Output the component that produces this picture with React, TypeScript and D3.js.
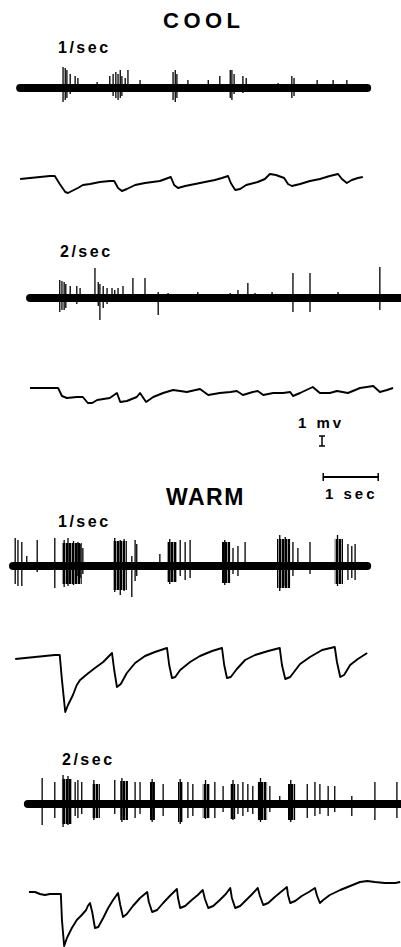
import React from 'react';
import * as d3 from 'd3';

// time in seconds, potential in mV (spike amplitudes in the same units)
type Pt = [number, number];
type Spike = [number, number, number]; // time, up, down
type Burst = [number, number, number, number]; // t0, t1, up, down

const panelTitles = ['COOL', 'WARM'];
const rateLabels = ['1/sec', '2/sec', '1/sec', '2/sec'];
const scaleLabels = ['1 mv', '1 sec'];

// COOL 1/sec
const coolSpikes1Extent = [0.13, 6.44];
const coolSpikes1: Spike[] = [
  [0.91, 2.1, 1.4], [0.95, 2.0, 1.2], [0.98, 1.8, 1.0], [1.04, 1.4, 0.6], [1.13, 1.2, 0.3],
  [1.18, 1.0, 0.4], [1.53, 0.6, 0.3], [1.76, 1.2, 0.3], [1.82, 1.4, 0.8], [1.87, 1.6, 1.0],
  [1.91, 1.4, 1.2], [1.95, 1.8, 1.0], [1.98, 1.2, 0.8], [2.04, 1.0, 0.4], [2.09, 1.8, 0.4],
  [2.31, 0.8, 0.2], [2.91, 1.6, 1.2], [2.95, 1.8, 1.4], [2.98, 1.4, 1.0], [3.18, 0.8, 0.3],
  [3.55, 0.8, 0.3], [3.76, 1.2, 0.4], [3.95, 1.8, 1.0], [3.98, 1.8, 1.2], [4.02, 1.4, 0.6],
  [4.18, 1.2, 0.5], [4.24, 1.0, 0.4], [4.82, 0.5, 0.2], [5.07, 1.2, 1.0], [5.11, 1.0, 0.8],
  [5.53, 0.8, 0.3], [5.82, 0.8, 0.3], [6.07, 0.8, 0.3],
];
const coolSlow1: Pt[] = [
  [0.13, -0.1], [0.31, 0], [0.49, 0.1], [0.67, 0.2], [0.76, 0.2], [0.85, -0.6], [0.95, -1.4],
  [1.0, -1.5], [1.07, -1.3], [1.18, -1.0], [1.27, -0.7], [1.4, -0.6], [1.58, -0.4], [1.76, -0.3],
  [1.84, -0.3], [1.91, -1.0], [1.98, -1.3], [2.07, -1.1], [2.22, -0.7], [2.4, -0.5], [2.67, -0.3],
  [2.87, 0.1], [2.93, -0.7], [3.0, -1.0], [3.13, -0.8], [3.31, -0.6], [3.49, -0.4], [3.67, -0.2],
  [3.8, 0], [3.91, 0.2], [3.96, -0.5], [4.04, -1.2], [4.13, -1.1], [4.24, -0.7], [4.31, -0.6],
  [4.45, -0.4], [4.58, -0.1], [4.67, 0.4], [4.78, 0.3], [4.93, 0], [5.0, -0.6], [5.07, -0.8],
  [5.22, -0.6], [5.4, -0.3], [5.58, -0.1], [5.76, 0.2], [5.91, 0.4], [5.98, -0.1], [6.07, -0.5],
  [6.16, -0.2], [6.27, 0], [6.36, 0.1],
];

// COOL 2/sec
const coolSpikes2Extent = [0.31, 7.05];
const coolSpikes2: Spike[] = [
  [0.85, 1.8, 1.4], [0.89, 1.7, 1.2], [0.93, 1.6, 1.2], [0.96, 1.4, 1.0], [1.04, 1.2, 0.4],
  [1.16, 1.2, 0.6], [1.22, 1.0, 0.4], [1.49, 3.0, 0.2], [1.55, 1.6, 0.8], [1.58, 1.4, 2.2],
  [1.64, 1.2, 1.0], [1.71, 1.0, 0.6], [1.8, 1.0, 0.4], [1.85, 0.8, 0.3], [1.91, 1.0, 0.3],
  [2.0, 1.2, 0.4], [2.18, 2.0, 0.3], [2.4, 2.0, 0.3], [2.64, 0.6, 1.7], [2.82, 0.5, 0.3],
  [3.36, 0.6, 0.2], [3.95, 0.5, 0.2], [4.09, 0.8, 0.2], [4.27, 1.5, 0.3], [4.4, 0.5, 0.2],
  [4.71, 0.6, 0.2], [5.09, 2.5, 1.4], [5.4, 2.5, 1.4], [5.91, 0.6, 0.3], [6.67, 3.1, 1.2],
];
const coolSlow2: Pt[] = [
  [0.31, 0], [0.67, 0], [0.82, 0], [0.89, -0.8], [0.98, -1.0], [1.16, -0.9], [1.27, -0.9],
  [1.36, -1.5], [1.44, -1.5], [1.53, -1.2], [1.76, -1.0], [1.89, -0.5], [1.95, -1.4], [2.07, -1.3],
  [2.25, -0.9], [2.31, -0.5], [2.42, -1.4], [2.55, -0.9], [2.73, -0.5], [2.91, -0.2], [3.04, -0.3],
  [3.16, -0.4], [3.4, -0.1], [3.55, -0.7], [3.76, -0.5], [3.95, -0.4], [4.07, -0.3], [4.18, -0.7],
  [4.36, -0.4], [4.45, -0.3], [4.55, -0.7], [4.73, -0.5], [4.91, -0.5], [5.04, -0.4], [5.09, -0.8],
  [5.22, -0.5], [5.45, 0.1], [5.58, -0.5], [5.76, -0.5], [5.89, -0.3], [6.09, -0.5], [6.31, 0],
  [6.55, 0.2], [6.67, -0.4], [6.8, -0.2], [6.91, 0],
];

// WARM 1/sec
const warmSpikes1Extent = [0.0, 6.44];
const warmBursts1: Burst[] = [
  [0.89, 1.25, 2.3, 1.8], [1.82, 2.07, 2.5, 2.4], [2.8, 2.98, 2.4, 1.6],
  [3.8, 3.95, 2.4, 1.7], [4.8, 5.04, 2.7, 2.2], [5.85, 6.0, 2.7, 1.8],
];
const warmSpikes1: Spike[] = [
  [0.04, 2.8, 1.8], [0.09, 2.6, 2.0], [0.16, 2.4, 2.0], [0.25, 1.0, 0.3], [0.44, 2.6, 0.6],
  [0.76, 2.8, 2.2], [0.93, 2.6, 2.1], [1.0, 2.8, 2.0], [1.1, 2.5, 1.9], [1.18, 2.4, 1.0],
  [1.22, 2.2, 1.2], [1.27, 1.8, 0.8], [1.85, 2.8, 2.6], [1.95, 2.6, 2.9], [2.02, 2.7, 2.5],
  [2.16, 1.0, 3.1], [2.22, 2.6, 1.5], [2.25, 2.2, 1.0], [2.67, 1.2, 0.4], [2.85, 2.7, 1.8],
  [3.04, 2.6, 1.0], [3.13, 2.4, 1.4], [3.22, 2.6, 1.2], [3.85, 2.6, 1.9], [4.0, 1.8, 0.8],
  [4.09, 2.0, 1.0], [4.22, 2.4, 0.4], [4.85, 3.1, 2.5], [4.95, 2.9, 2.0], [5.09, 2.4, 1.0],
  [5.18, 1.8, 0.4], [5.4, 2.4, 0.8], [5.9, 3.1, 2.0], [6.09, 2.2, 1.4], [6.16, 2.0, 1.2],
  [6.22, 2.2, 1.4],
];
const warmSlow1: Pt[] = [
  [0.04, -0.2], [0.22, -0.1], [0.4, 0], [0.58, 0.1], [0.76, 0.2], [0.85, 0.2], [0.89, -2.3],
  [0.95, -5.5], [1.0, -4.8], [1.09, -3.8], [1.16, -2.8], [1.22, -2.3], [1.35, -1.7], [1.49, -1.1],
  [1.64, -0.5], [1.8, 0.4], [1.84, -1.3], [1.89, -3.0], [1.96, -2.7], [2.07, -1.6], [2.22, -0.6],
  [2.4, 0.1], [2.58, 0.5], [2.8, 0.9], [2.84, -0.8], [2.89, -2.1], [2.95, -2.0], [3.04, -1.3],
  [3.22, -0.5], [3.4, 0.1], [3.62, 0.6], [3.8, 0.9], [3.84, -0.8], [3.89, -2.1], [3.96, -2.0],
  [4.07, -1.2], [4.22, -0.3], [4.4, 0.2], [4.64, 0.6], [4.85, 0.9], [4.89, -0.8], [4.95, -2.2],
  [5.04, -2.0], [5.22, -0.7], [5.4, 0], [5.62, 0.7], [5.85, 1.0], [5.89, -0.5], [5.95, -2.0],
  [6.02, -1.8], [6.13, -0.8], [6.27, -0.2], [6.44, 0.4],
];

// WARM 2/sec
const warmSpikes2Extent = [0.27, 7.05];
const warmBursts2: Burst[] = [
  [0.89, 1.07, 2.5, 2.0], [1.44, 1.58, 2.0, 1.4], [1.95, 2.09, 2.3, 1.6], [2.49, 2.58, 2.2, 1.6],
  [3.0, 3.09, 2.2, 1.8], [3.45, 3.58, 2.0, 1.4], [3.95, 4.04, 2.0, 1.5], [4.45, 4.62, 2.2, 1.6],
  [5.0, 5.13, 2.0, 1.6],
];
const warmSpikes2: Spike[] = [
  [0.53, 2.6, 2.1], [0.76, 2.2, 1.4], [0.91, 2.9, 2.3], [1.0, 2.8, 2.1], [1.13, 2.2, 1.2],
  [1.18, 2.4, 1.4], [1.25, 2.2, 1.0], [1.47, 2.4, 1.6], [1.85, 2.4, 1.0], [1.98, 2.6, 1.8],
  [2.22, 2.2, 1.4], [2.31, 2.2, 1.0], [2.53, 2.5, 1.8], [2.73, 2.0, 1.2], [3.04, 2.5, 2.0],
  [3.18, 2.2, 1.4], [3.27, 2.0, 1.2], [3.5, 2.4, 1.5], [3.67, 2.2, 1.4], [3.82, 1.8, 0.8],
  [4.0, 2.4, 1.6], [4.09, 2.0, 1.0], [4.18, 2.2, 1.2], [4.27, 2.0, 0.8], [4.36, 1.8, 1.0],
  [4.5, 2.6, 1.8], [4.67, 1.8, 0.8], [4.85, 0.8, 0.4], [5.05, 2.4, 1.8], [5.35, 2.0, 1.4],
  [5.49, 2.2, 1.2], [5.58, 2.0, 1.0], [5.73, 1.8, 1.2], [5.85, 1.8, 0.8], [6.16, 0.8, 1.2],
  [6.58, 2.2, 1.6], [6.98, 2.2, 1.4],
];
const warmSlow2: Pt[] = [
  [0.29, 0.1], [0.4, 0.1], [0.49, -0.1], [0.58, -0.2], [0.67, -0.1], [0.76, -0.1], [0.87, -0.1],
  [0.89, -2.7], [0.93, -5.3], [0.98, -4.5], [1.07, -3.5], [1.16, -2.7], [1.25, -2.2], [1.33, -1.7],
  [1.36, -1.3], [1.4, -1.0], [1.44, -1.9], [1.49, -3.5], [1.55, -3.4], [1.64, -2.5], [1.73, -1.5],
  [1.82, -0.7], [1.91, 0], [1.95, -1.2], [2.0, -2.4], [2.07, -2.1], [2.18, -1.3], [2.31, -0.5],
  [2.44, 0.1], [2.47, -0.9], [2.53, -1.9], [2.62, -1.7], [2.73, -1.0], [2.85, -0.3], [2.98, 0.4],
  [3.0, -0.5], [3.04, -1.5], [3.13, -1.3], [3.25, -0.7], [3.36, -0.2], [3.45, 0.3], [3.49, -0.6],
  [3.55, -1.5], [3.64, -1.3], [3.76, -0.7], [3.87, -0.1], [3.95, 0.5], [3.98, -0.5], [4.04, -1.5],
  [4.13, -1.3], [4.24, -0.7], [4.35, -0.1], [4.45, 0.5], [4.49, -0.3], [4.55, -1.2], [4.64, -1.0],
  [4.76, -0.4], [4.87, 0.1], [4.98, 0.6], [5.0, -0.2], [5.04, -1.0], [5.13, -0.8], [5.25, -0.3],
  [5.38, 0.1], [5.49, 0.5], [5.53, -0.3], [5.58, -1.0], [5.64, -0.7], [5.76, -0.2], [5.95, 0.3],
  [6.13, 0.7], [6.31, 1.1], [6.44, 1.2], [6.58, 1.1], [6.76, 1.0], [6.95, 1.0], [7.04, 1.1],
];

// scale bar values
const barMv = 1;
const barSec = 1;
const barStart = 5.64;

const W = 401;
const H = 947;
const x = d3.scaleLinear().domain([0, 7]).range([13, 398]);
const mvPx = 10;
const yAt = (base: number) => d3.scaleLinear().domain([0, 1]).range([base, base - mvPx]);

const font = "Arial, 'Liberation Sans', Helvetica, sans-serif";

function SpikeTrace({ base, extent, spikes, bursts }: {
  base: number; extent: number[]; spikes: Spike[]; bursts?: Burst[];
}) {
  const y = yAt(base);
  return (
    <g>
      <line x1={x(extent[0])} x2={x(extent[1])} y1={base} y2={base}
        stroke="#000" strokeWidth={8} strokeLinecap="round" />
      {(bursts || []).map((b, i) => (
        <rect key={'b' + i} x={x(b[0])} width={x(b[1]) - x(b[0])}
          y={y(b[2])} height={y(-b[3]) - y(b[2])} fill="url(#burst)" />
      ))}
      {spikes.map((s, i) => (
        <line key={'s' + i} x1={x(s[0])} x2={x(s[0])} y1={y(s[1])} y2={y(-s[2])}
          stroke="#000" strokeWidth={1.3} />
      ))}
    </g>
  );
}

function SlowTrace({ base, data }: { base: number; data: Pt[] }) {
  const y = yAt(base);
  const line = d3.line<Pt>().x((d) => x(d[0])).y((d) => y(d[1]));
  return <path d={line(data) || ''} fill="none" stroke="#000" strokeWidth={1.9} strokeLinejoin="round" />;
}

export default function App() {
  const yBar = yAt(446);
  return (
    <div style={{ position: 'absolute', left: 0, top: 0 }}>
      <svg width={W} height={H} style={{ display: 'block', background: '#fff' }}>
        <defs>
          <pattern id="burst" width={3} height={4} patternUnits="userSpaceOnUse">
            <rect x={0} y={0} width={2.4} height={4} fill="#000" />
          </pattern>
        </defs>
        <g fontFamily={font} fontWeight="bold" fill="#000">
          <text x={163} y={28} fontSize={22} letterSpacing={4.5}>{panelTitles[0]}</text>
          <text x={166} y={505} fontSize={23} letterSpacing={1.5}>{panelTitles[1]}</text>
          <text x={58} y={53} fontSize={16} letterSpacing={2.5}>{rateLabels[0]}</text>
          <text x={60} y={257} fontSize={16} letterSpacing={2.5}>{rateLabels[1]}</text>
          <text x={58} y={527} fontSize={16} letterSpacing={2.5}>{rateLabels[2]}</text>
          <text x={62} y={765} fontSize={16} letterSpacing={2.5}>{rateLabels[3]}</text>
          <text x={298} y={428} fontSize={15} letterSpacing={3}>{scaleLabels[0]}</text>
          <text x={325} y={499} fontSize={15} letterSpacing={3}>{scaleLabels[1]}</text>
        </g>

        <SpikeTrace base={88} extent={coolSpikes1Extent} spikes={coolSpikes1} />
        <SlowTrace base={178} data={coolSlow1} />
        <SpikeTrace base={298} extent={coolSpikes2Extent} spikes={coolSpikes2} />
        <SlowTrace base={388} data={coolSlow2} />
        <SpikeTrace base={566} extent={warmSpikes1Extent} spikes={warmSpikes1} bursts={warmBursts1} />
        <SlowTrace base={657} data={warmSlow1} />
        <SpikeTrace base={804} extent={warmSpikes2Extent} spikes={warmSpikes2} bursts={warmBursts2} />
        <SlowTrace base={893} data={warmSlow2} />

        {/* calibration bars */}
        <g stroke="#000" strokeWidth={1.5}>
          <line x1={322} x2={322} y1={yBar(0)} y2={yBar(barMv)} />
          <line x1={319} x2={325} y1={yBar(0)} y2={yBar(0)} />
          <line x1={319} x2={325} y1={yBar(barMv)} y2={yBar(barMv)} />
          <line x1={x(barStart)} x2={x(barStart + barSec)} y1={477} y2={477} strokeWidth={2} />
          <line x1={x(barStart)} x2={x(barStart)} y1={473} y2={481} />
          <line x1={x(barStart + barSec)} x2={x(barStart + barSec)} y1={473} y2={481} />
        </g>
      </svg>
    </div>
  );
}
